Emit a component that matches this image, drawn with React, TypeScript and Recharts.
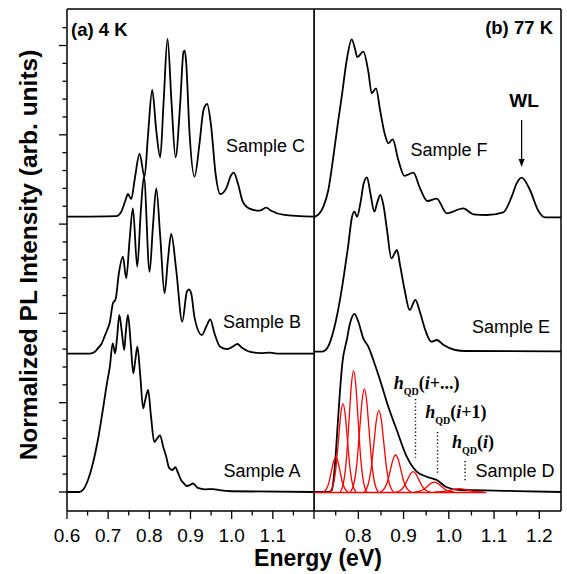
import React from 'react';
import { LineChart, Line, XAxis, YAxis, ReferenceLine } from 'recharts';

type P = [number, number];

// ---------- data (energy eV, normalized intensity with vertical offsets) ----------
const sampleA: P[] = [
  [0.6, 0.0], [0.63, 0.0], [0.64, 0.03], [0.651, 0.134], [0.663, 0.321], [0.675, 0.582], [0.687, 0.918],
  [0.697, 1.217], [0.704, 1.4], [0.711, 1.665], [0.717, 1.553], [0.722, 1.75], [0.727, 1.982], [0.733, 1.8],
  [0.739, 1.59], [0.743, 1.8], [0.748, 1.982], [0.755, 1.65], [0.761, 1.329], [0.766, 1.48], [0.771, 1.627],
  [0.778, 1.3], [0.785, 0.937], [0.79, 1.03], [0.797, 1.142], [0.804, 0.85], [0.812, 0.56], [0.819, 0.6],
  [0.826, 0.635], [0.834, 0.5], [0.841, 0.396], [0.848, 0.27], [0.856, 0.246], [0.863, 0.277], [0.87, 0.21],
  [0.877, 0.134], [0.884, 0.095], [0.891, 0.067], [0.899, 0.078], [0.906, 0.095], [0.918, 0.045],
  [0.935, 0.03], [0.955, 0.032], [0.97, 0.02], [1.0, 0.008], [1.2, 0.0],
];
const sampleB: P[] = [
  [0.6, 1.55], [0.655, 1.55], [0.668, 1.57], [0.675, 1.609], [0.684, 1.66], [0.691, 1.739], [0.698, 1.82],
  [0.7035, 1.889], [0.7116, 2.113], [0.718, 2.158], [0.726, 2.449], [0.7358, 2.635], [0.7439, 2.393],
  [0.752, 2.822], [0.7601, 3.177], [0.7706, 2.523], [0.7795, 3.159], [0.7868, 3.531], [0.8006, 2.467],
  [0.8087, 2.971], [0.8168, 3.401], [0.8265, 2.859], [0.837, 2.225], [0.8451, 2.598], [0.8532, 2.889],
  [0.8653, 2.486], [0.8799, 1.907], [0.8912, 2.243], [0.8961, 2.27], [0.9017, 2.225], [0.91, 1.95],
  [0.9277, 1.758], [0.938, 1.85], [0.948, 1.934], [0.958, 1.78], [0.972, 1.627], [0.99, 1.6], [1.003, 1.63],
  [1.014, 1.657], [1.025, 1.615], [1.045, 1.568], [1.07, 1.555], [1.093, 1.56], [1.11, 1.55], [1.2, 1.55],
];
const sampleC: P[] = [
  [0.6, 3.083], [0.7197, 3.09], [0.7318, 3.139], [0.7423, 3.27], [0.748, 3.337], [0.7561, 3.281],
  [0.7642, 3.494], [0.7763, 3.785], [0.7884, 3.531], [0.7965, 3.979], [0.807, 4.502], [0.8167, 4.054],
  [0.8265, 3.748], [0.8345, 4.352], [0.8442, 5.073], [0.854, 4.352], [0.8637, 3.748], [0.875, 4.352],
  [0.8831, 4.931], [0.8863, 4.942], [0.8896, 4.8], [0.8977, 4.017], [0.9098, 3.531], [0.9219, 3.905],
  [0.9316, 4.278], [0.9405, 4.345], [0.9502, 4.091], [0.9608, 3.569], [0.9721, 3.337], [0.9867, 3.401],
  [0.9988, 3.55], [1.0053, 3.576], [1.015, 3.457], [1.0271, 3.251], [1.0433, 3.173], [1.0676, 3.15],
  [1.0837, 3.184], [1.0959, 3.15], [1.1242, 3.106], [1.2, 3.083],
];
const sampleD: P[] = [
  [0.702, 0], [0.735, 0], [0.7412, 0.02], [0.7486, 0.321], [0.7536, 0.694], [0.7596, 1.142], [0.7646, 1.441],
  [0.7744, 1.702], [0.7817, 1.889], [0.7912, 1.995], [0.8, 1.907], [0.811, 1.721], [0.8221, 1.627],
  [0.8331, 1.478], [0.848, 1.254], [0.8663, 0.955], [0.8849, 0.694], [0.907, 0.395], [0.929, 0.227],
  [0.9512, 0.171], [0.9733, 0.134], [0.9954, 0.053], [1.0248, 0.022], [1.081, 0.018], [1.15, 0.01], [1.248, 0.0],
];
const sampleE: P[] = [
  [0.702, 1.571], [0.7198, 1.571], [0.731, 1.609], [0.7456, 1.814], [0.7567, 2.075], [0.7677, 2.411],
  [0.7773, 2.747], [0.7861, 3.083], [0.7913, 3.139], [0.7972, 3.083], [0.8045, 3.233], [0.8119, 3.457],
  [0.8192, 3.524], [0.8266, 3.345], [0.8354, 3.139], [0.8413, 3.233], [0.8487, 3.326], [0.856, 3.195],
  [0.8634, 2.934], [0.873, 2.617], [0.8855, 2.71], [0.8928, 2.523], [0.9024, 2.262], [0.9134, 2.038],
  [0.926, 2.15], [0.937, 2.001], [0.948, 1.814], [0.9613, 1.683], [0.9738, 1.702], [0.9886, 1.646],
  [1.0143, 1.59], [1.0364, 1.579], [1.248, 1.575],
];
const sampleF: P[] = [
  [0.702, 3.08], [0.7043, 3.083], [0.7227, 3.195], [0.7337, 3.382], [0.7448, 3.755], [0.7558, 4.166],
  [0.7633, 4.427], [0.7744, 4.838], [0.7854, 5.069], [0.7927, 4.96], [0.7978, 4.87], [0.811, 4.931],
  [0.8221, 4.707], [0.8296, 4.465], [0.8391, 4.521], [0.848, 4.278], [0.859, 3.998], [0.8663, 3.905],
  [0.876, 3.95], [0.8884, 3.718], [0.902, 3.54], [0.9215, 3.576], [0.9364, 3.401], [0.9525, 3.259],
  [0.9733, 3.285], [0.9953, 3.121], [1.032, 3.177], [1.0541, 3.11], [1.0838, 3.102], [1.1204, 3.132],
  [1.139, 3.307], [1.15, 3.457], [1.1611, 3.52], [1.1794, 3.382], [1.1978, 3.15], [1.2126, 3.076], [1.248, 3.076],
];

// fitted QD peaks of sample D (red)
const fit1: P[] = [[0.7221, 0], [0.7295, 0.035], [0.7351, 0.108], [0.7407, 0.237], [0.7454, 0.344], [0.75, 0.39], [0.7547, 0.344], [0.7593, 0.237], [0.7649, 0.108], [0.7705, 0.035], [0.7779, 0]];
const fit2: P[] = [[0.7372, 0], [0.7449, 0.088], [0.7506, 0.275], [0.7564, 0.6], [0.7612, 0.874], [0.766, 0.99], [0.7708, 0.874], [0.7756, 0.6], [0.7814, 0.275], [0.7871, 0.088], [0.7948, 0]];
const fit3: P[] = [[0.7601, 0], [0.7679, 0.121], [0.7738, 0.378], [0.7797, 0.825], [0.7846, 1.2], [0.7895, 1.36], [0.7944, 1.2], [0.7993, 0.825], [0.8052, 0.378], [0.8111, 0.121], [0.8189, 0]];
const fit4: P[] = [[0.7824, 0], [0.7906, 0.103], [0.7968, 0.321], [0.803, 0.701], [0.8082, 1.019], [0.8133, 1.155], [0.8185, 1.019], [0.8236, 0.701], [0.8298, 0.321], [0.836, 0.103], [0.8442, 0]];
const fit5: P[] = [[0.813, 0], [0.8216, 0.081], [0.8281, 0.254], [0.8346, 0.555], [0.84, 0.807], [0.8454, 0.915], [0.8508, 0.807], [0.8562, 0.555], [0.8627, 0.254], [0.8692, 0.081], [0.8778, 0]];
const fit6: P[] = [[0.8483, 0], [0.8574, 0.037], [0.8643, 0.115], [0.8711, 0.251], [0.8768, 0.365], [0.8825, 0.414], [0.8882, 0.365], [0.8939, 0.251], [0.9007, 0.115], [0.9076, 0.037], [0.9167, 0]];
const fit7: P[] = [[0.8834, 0], [0.8935, 0.02], [0.901, 0.063], [0.9086, 0.138], [0.9149, 0.2], [0.9212, 0.227], [0.9275, 0.2], [0.9338, 0.138], [0.9414, 0.063], [0.9489, 0.02], [0.959, 0]];
const fit8: P[] = [[0.9245, 0], [0.9361, 0.01], [0.9448, 0.031], [0.9535, 0.067], [0.9608, 0.097], [0.968, 0.11], [0.9753, 0.097], [0.9825, 0.067], [0.9912, 0.031], [0.9999, 0.01], [1.0115, 0]];
const fit9: P[] = [[0.969, 0], [0.9834, 0.003], [0.9942, 0.01], [1.005, 0.022], [1.014, 0.032], [1.023, 0.036], [1.032, 0.032], [1.041, 0.022], [1.0518, 0.01], [1.0626, 0.003], [1.077, 0]];
const fitBase: P[] = [[0.702, -0.005], [1.083, -0.005]];
const fits: P[][] = [fit1, fit2, fit3, fit4, fit5, fit6, fit7, fit8, fit9];

// axes
const yDomain: [number, number] = [-0.213, 5.409];
const leftDomain: [number, number] = [0.6, 1.2];
const rightDomain: [number, number] = [0.702, 1.248];
const yTicks = [0, 0.2, 0.4, 0.6, 0.8, 1, 1.2, 1.4, 1.6, 1.8, 2, 2.2, 2.4, 2.6, 2.8, 3, 3.2, 3.4, 3.6, 3.8, 4, 4.2, 4.4, 4.6, 4.8, 5, 5.2];
const leftXTicks = [0.6, 0.65, 0.7, 0.75, 0.8, 0.85, 0.9, 0.95, 1.0, 1.05, 1.1, 1.15, 1.2];
const leftXLabels = ['0.6', '0.7', '0.8', '0.9', '1.0', '1.1'];
const leftXMajors = [0.6, 0.7, 0.8, 0.9, 1.0, 1.1, 1.2];
const rightXTicks = [0.75, 0.8, 0.85, 0.9, 0.95, 1.0, 1.05, 1.1, 1.15, 1.2];
const rightXLabels = ['0.8', '0.9', '1.0', '1.1', '1.2'];
const rightXMajors = [0.8, 0.9, 1.0, 1.1, 1.2];

// annotations
const wlEnergy = 1.161;
const wlArrow: [number, number] = [4.166, 3.64];
const hqdMarks: { e: number; y1: number; y2: number }[] = [
  { e: 0.9264, y1: 1.041, y2: 0.381 },
  { e: 0.975, y1: 0.672, y2: 0.196 },
  { e: 1.036, y1: 0.347, y2: 0.112 },
];

const SANS = "'Liberation Sans', Arial, Helvetica, sans-serif";
const SERIF = "'Liberation Serif', 'Times New Roman', serif";
const rows = (pts: P[]) => pts.map(([x, y]) => ({ x, y }));
const near = (a: number, b: number) => Math.abs(a - b) < 1e-6;

const makeXTick = (majors: number[], labels: string[]) => (props: any) => {
  const { x, y, payload } = props;
  const v: number = payload.value;
  const major = majors.some((m) => near(m, v));
  const label = labels.find((l) => near(parseFloat(l), v));
  return (
    <g>
      <line x1={x} x2={x} y1={y} y2={y + (major ? 8 : 4.5)} stroke="#000" strokeWidth={1.3} />
      {label && (
        <text x={x} y={y + 31} textAnchor="middle" fontSize={19} fontFamily={SANS} fill="#000">
          {label}
        </text>
      )}
    </g>
  );
};

const YTick = (props: any) => {
  const { x, y, payload } = props;
  const v: number = payload.value;
  const major = near(v, Math.round(v));
  return <line x1={x} x2={x - (major ? 8 : 4.5)} y1={y} y2={y} stroke="#000" strokeWidth={1.3} />;
};

const Arrow = (p: any) => {
  const { x1, y1, x2, y2 } = p;
  return (
    <g>
      <line x1={x1} y1={y1} x2={x2} y2={y2 - 6} stroke="#000" strokeWidth={1.2} />
      <path d={`M${x2 - 3},${y2 - 8} L${x2 + 3},${y2 - 8} L${x2},${y2} Z`} fill="#000" />
    </g>
  );
};

const HQD = ({ x, y, sub }: { x: number; y: number; sub: string }) => (
  <text x={x} y={y} fontFamily={SERIF} fontWeight="bold" fontSize={18} fill="#000">
    <tspan fontStyle="italic">h</tspan>
    <tspan fontSize={10} dy={6}>QD</tspan>
    <tspan dy={-6}>(</tspan>
    <tspan fontStyle="italic">i</tspan>
    <tspan>{sub})</tspan>
  </text>
);

export default function App() {
  const lineCommon = { type: 'monotone' as const, dataKey: 'y', dot: false, activeDot: false, isAnimationActive: false };
  return (
    <div style={{ position: 'absolute', left: 0, top: 0, width: 567, height: 574, background: '#fff' }}>
      <div style={{ position: 'absolute', left: 0, top: 0 }}>
        <LineChart width={316} height={574} margin={{ top: 9, right: 2, bottom: 0, left: 0 }}>
          <XAxis
            dataKey="x" type="number" domain={leftDomain} ticks={leftXTicks} interval={0}
            height={63} tickSize={0} tickMargin={0} tickLine={false}
            axisLine={{ stroke: '#000', strokeWidth: 1.5 }}
            tick={makeXTick(leftXMajors, leftXLabels)} allowDataOverflow
          />
          <YAxis
            type="number" domain={yDomain} ticks={yTicks} interval={0} width={67}
            tickSize={0} tickMargin={0} tickLine={false}
            axisLine={{ stroke: '#000', strokeWidth: 1.5 }} tick={YTick} allowDataOverflow
          />
          <ReferenceLine y={yDomain[1]} stroke="#000" strokeWidth={1.5} />
          <ReferenceLine x={leftDomain[1]} stroke="#000" strokeWidth={1.5} />
          <Line {...lineCommon} data={rows(sampleA)} stroke="#000" strokeWidth={1.8} />
          <Line {...lineCommon} data={rows(sampleB)} stroke="#000" strokeWidth={1.8} />
          <Line {...lineCommon} data={rows(sampleC)} stroke="#000" strokeWidth={1.8} />
        </LineChart>
      </div>
      <div style={{ position: 'absolute', left: 314, top: 0 }}>
        <LineChart width={253} height={574} margin={{ top: 9, right: 6, bottom: 0, left: 0 }}>
          <XAxis
            dataKey="x" type="number" domain={rightDomain} ticks={rightXTicks} interval={0}
            height={63} tickSize={0} tickMargin={0} tickLine={false}
            axisLine={{ stroke: '#000', strokeWidth: 1.5 }}
            tick={makeXTick(rightXMajors, rightXLabels)} allowDataOverflow
          />
          <YAxis hide type="number" domain={yDomain} allowDataOverflow />
          <ReferenceLine y={yDomain[1]} stroke="#000" strokeWidth={1.5} />
          <ReferenceLine x={rightDomain[0]} stroke="#000" strokeWidth={1.5} />
          <ReferenceLine x={rightDomain[1]} stroke="#000" strokeWidth={1.5} />
          <Line {...lineCommon} data={rows(sampleD)} stroke="#000" strokeWidth={1.8} />
          <Line {...lineCommon} data={rows(sampleE)} stroke="#000" strokeWidth={1.8} />
          <Line {...lineCommon} data={rows(sampleF)} stroke="#000" strokeWidth={1.8} />
          {fits.map((f, i) => (
            <Line key={`fit${i}`} {...lineCommon} data={rows(f)} stroke="#f00" strokeWidth={1.3} />
          ))}
          <Line {...lineCommon} type="linear" data={rows(fitBase)} stroke="#f00" strokeWidth={1.6} />
          {hqdMarks.map((m, i) => (
            <ReferenceLine
              key={`hq${i}`}
              segment={[{ x: m.e, y: m.y1 }, { x: m.e, y: m.y2 }]}
              stroke="#000" strokeWidth={1.4} strokeDasharray="1.2 2.4"
            />
          ))}
          <ReferenceLine
            segment={[{ x: wlEnergy, y: wlArrow[0] }, { x: wlEnergy, y: wlArrow[1] }]}
            stroke="#000" shape={Arrow}
          />
        </LineChart>
      </div>
      <svg width={567} height={574} style={{ position: 'absolute', left: 0, top: 0, pointerEvents: 'none' }}>
        <g fontFamily={SANS} fill="#000">
          <text x={71} y={36} fontSize={18.5} fontWeight="bold">(a) 4 K</text>
          <text x={553} y={34} fontSize={18.5} fontWeight="bold" textAnchor="end">(b) 77 K</text>
          <text x={524} y={106.5} fontSize={19} fontWeight="bold" textAnchor="middle">WL</text>
          <text x={226} y={151.5} fontSize={18}>Sample C</text>
          <text x={223} y={327.5} fontSize={18}>Sample B</text>
          <text x={223.5} y={476.5} fontSize={18}>Sample A</text>
          <text x={410.5} y={156} fontSize={18}>Sample F</text>
          <text x={472} y={333} fontSize={18}>Sample E</text>
          <text x={475.5} y={476.5} fontSize={18}>Sample D</text>
          <text x={318} y={566} fontSize={23} fontWeight="bold" textAnchor="middle">Energy (eV)</text>
          <text transform="translate(37,255) rotate(-90)" fontSize={24.5} fontWeight="bold" textAnchor="middle">
            Normalized PL Intensity (arb. units)
          </text>
        </g>
        <HQD x={393.7} y={389} sub="+..." />
        <HQD x={425.3} y={418.3} sub="+1" />
        <HQD x={452} y={448.3} sub="" />
      </svg>
    </div>
  );
}
